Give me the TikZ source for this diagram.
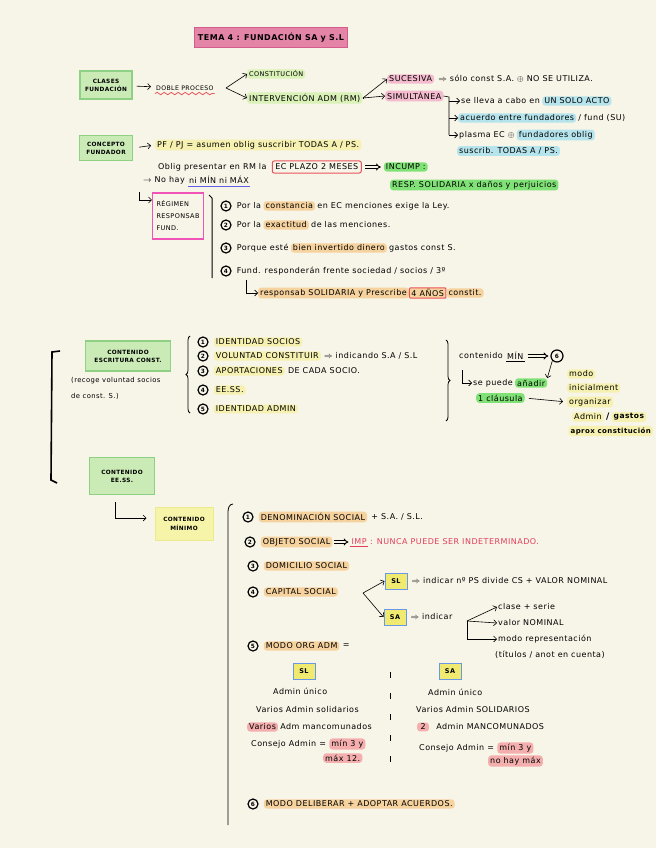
\documentclass[tikz,border=0pt]{standalone}
\usepackage{fontspec}
\setmainfont{DejaVu Sans}[LetterSpace=6]
\usetikzlibrary{positioning,arrows.meta,decorations.pathmorphing,decorations.pathreplacing}
\definecolor{bgcream}{RGB}{247,244,232}
\definecolor{titlepink}{RGB}{228,132,166}
\definecolor{titleedge}{RGB}{212,92,140}
\definecolor{gfill}{RGB}{202,234,182}
\definecolor{gedge}{RGB}{142,208,132}
\definecolor{lgreen}{RGB}{218,242,184}
\definecolor{bgreen}{RGB}{128,226,118}
\definecolor{hlpink}{RGB}{244,186,206}
\definecolor{hlblue}{RGB}{182,228,236}
\definecolor{hlyellow}{RGB}{246,241,176}
\definecolor{hlorange}{RGB}{246,210,158}
\definecolor{hlred}{RGB}{244,174,174}
\definecolor{redline}{RGB}{236,84,92}
\definecolor{magline}{RGB}{240,84,182}
\definecolor{redtext}{RGB}{226,62,92}
\definecolor{ulblue}{RGB}{96,96,232}
\definecolor{yfill}{RGB}{246,244,168}
\definecolor{yedge}{RGB}{236,234,140}
\definecolor{tagfill}{RGB}{240,234,112}
\definecolor{tagedge}{RGB}{104,152,230}

\begin{document}
\begin{tikzpicture}[x=1pt,y=-1pt,font=\fontsize{8}{9}\selectfont,node distance=2pt,
txt/.style={anchor=west, inner sep=1pt},
hl/.style={txt, rounded corners=3pt, inner xsep=2pt, inner ysep=1.5pt},
hlo/.style={hl, fill=hlorange},hly/.style={hl, fill=hlyellow},hlp/.style={hl, fill=hlpink},
hlb/.style={hl, fill=hlblue},hlg/.style={hl, fill=bgreen},hlr/.style={hl, fill=hlred},
gbox/.style={draw=gedge, fill=gfill, line width=1.2pt, align=center, font=\fontsize{5.8}{8}\selectfont\bfseries},
tag/.style={draw=tagedge, fill=tagfill, line width=1pt, font=\fontsize{6.5}{6.5}\selectfont\bfseries, minimum width=22pt, minimum height=16pt, inner sep=1pt},
num/.style={circle, draw, line width=1.2pt, inner sep=0.4pt, minimum size=10pt, font=\fontsize{5.8}{5.8}\selectfont\bfseries},
arr/.style={-{Straight Barb[length=3pt]}, line width=0.6pt},
dbl/.style={double=bgcream, double distance=1.4pt, -{Implies}, line width=0.9pt}]
\useasboundingbox (0,0) rectangle (656,848);
\fill[bgcream] (0,0) rectangle (656,848);
\node[draw=titleedge, fill=titlepink, line width=1pt, minimum width=151pt, minimum height=20pt, font=\fontsize{8}{8}\selectfont\bfseries] (title) at (271,38) {TEMA 4 : FUNDACIÓN SA y S.L};

\node[gbox, minimum width=52pt, minimum height=28pt] (clases) at (106,85) {CLASES\\FUNDACIÓN};
\node[txt, font=\fontsize{6.2}{7}\selectfont] (doble) at (155,88) {DOBLE PROCESO};
\draw[arr, shorten <=4pt, shorten >=4pt] (clases) -- (doble);
\draw[redline, line width=0.8pt, decorate, decoration={snake, amplitude=1.2pt, segment length=7pt}] ([yshift=-2pt]doble.south west) -- ([yshift=-2pt]doble.south east);
\node[hl, fill=lgreen, font=\fontsize{6.5}{7}\selectfont] (constit) at (247,74) {CONSTITUCIÓN};
\node[hl, fill=lgreen] (interv) at (247,98) {INTERVENCIÓN ADM (RM)};
\coordinate (f1) at (226,88);
\draw[arr] (f1) -- (constit.west); \draw[arr] (f1) -- (interv.west);
\coordinate (f2) at (363,98);
\node[hlp] (suces) at (387,79) {SUCESIVA};
\node[txt, right=3pt of suces] (sucestxt) {$\Rightarrow$ sólo const S.A. $\oplus$ NO SE UTILIZA.};
\node[hlp] (simul) at (385,96) {SIMULTÁNEA};
\draw[line width=0.6pt] (interv.east) -- (f2); \draw[arr] (f2) -- (suces.west); \draw[arr] (f2) -- (simul.west);
\node[txt] (acto) at (460,101) {se lleva a cabo en}; \node[hlb, right=1pt of acto] (acto2) {UN SOLO ACTO};
\node[hlb] (acuerdo) at (458,118) {acuerdo entre fundadores}; \node[txt, right=1pt of acuerdo] (fund) {/ fund (SU)};
\node[txt] (plasma) at (458,135) {plasma EC $\oplus$}; \node[hlb, right=1pt of plasma] (plasma2) {fundadores oblig};
\node[hlb] (suscrib) at (457,151) {suscrib. TODAS A / PS.};
\coordinate (b1) at (449,97);
\draw[line width=0.6pt] (simul.east) -- (b1) -- (b1 |- plasma);
\draw[arr] (b1 |- acto) -- (acto.west); \draw[arr] (b1 |- acuerdo) -- (acuerdo.west); \draw[arr] (b1 |- plasma) -- (plasma.west);

\node[gbox, minimum width=53pt, minimum height=25pt] (concepto) at (106,148) {CONCEPTO\\FUNDADOR};
\node[hly] (pfpj) at (155,145) {PF / PJ = asumen oblig suscribir TODAS A / PS.};
\draw[arr, shorten <=6pt, shorten >=4pt] (concepto.east) -- (pfpj.west);
\node[txt] (oblig) at (157,167) {Oblig presentar en RM la};
\node[draw=redline, line width=1pt, rounded corners=2pt, inner sep=3pt, right=4pt of oblig] (plazo) {EC PLAZO 2 MESES};
\node[hlg, right=22pt of plazo] (incump) {INCUMP :};
\draw[dbl, shorten <=3pt, shorten >=3pt] (plazo) -- (incump);
\node[hlg] (resp) at (390,185) {RESP. SOLIDARIA x daños y perjuicios};
\node[txt] (nohay) at (142,180) {$\rightarrow$ No hay};
\node[txt, right=2pt of nohay] (minmax) {ni MÍN ni MÁX};
\draw[ulblue, line width=0.8pt] ([yshift=-1pt]minmax.south west) -- ([yshift=-1pt]minmax.south east);
\node[draw=magline, line width=1.3pt, align=left, inner sep=4pt, minimum width=49pt, minimum height=46pt, font=\fontsize{6.5}{12}\selectfont] (regimen) at (178,216) {RÉGIMEN\\RESPONSAB\\FUND.};
\coordinate (r0) at (139,192);
\draw[arr] (r0) |- ([yshift=16pt]regimen.west);
\draw[line width=1pt] (209,195) -- (212,198) -- (212,278);
\node[num] (r1) at (226,206) {1}; \node[txt, right=4pt of r1] (r1a) {Por la}; \node[hlo, right=1pt of r1a] (r1b) {constancia}; \node[txt, right=1pt of r1b] (r1c) {en EC menciones exige la Ley.};
\node[num] (r2) at (226,225) {2}; \node[txt, right=4pt of r2] (r2a) {Por la}; \node[hlo, right=1pt of r2a] (r2b) {exactitud}; \node[txt, right=1pt of r2b] (r2c) {de las menciones.};
\node[num] (r3) at (226,248) {3}; \node[txt, right=4pt of r3] (r3a) {Porque esté}; \node[hlo, right=1pt of r3a] (r3b) {bien invertido dinero}; \node[txt, right=1pt of r3b] (r3c) {gastos const S.};
\node[num] (r4) at (226,271) {4}; \node[txt, right=4pt of r4] (r4a) {Fund. responderán frente sociedad / socios / 3º};
\coordinate (r5) at (246,280);
\node[hlo] (r5a) at (258,293) {responsab SOLIDARIA y Prescribe};
\node[hlo, draw=redline, line width=1pt, rounded corners=1pt, right=0pt of r5a] (r5b) {4 AÑOS};
\node[hlo, right=0pt of r5b] (r5c) {constit.};
\draw[arr] (r5) |- (r5a.west);

\draw[line width=1.6pt] (60,351) -- (52,352) -- (51,480) -- (57,483);
\node[gbox, minimum width=85pt, minimum height=30pt] (escritura) at (128,356) {CONTENIDO\\ESCRITURA CONST.};
\node[txt, anchor=north west, align=left, font=\fontsize{6.8}{16}\selectfont] (recoge) at (70,376) {(recoge voluntad socios\\de const. S.)};
\draw[line width=0.8pt, decorate, decoration={brace, amplitude=4pt}] (190,413) -- (190,336);
\node[num] (e1) at (203,342) {1}; \node[hly, right=5pt of e1] (e1a) {IDENTIDAD SOCIOS};
\node[num] (e2) at (203,356) {2}; \node[hly, right=5pt of e2] (e2a) {VOLUNTAD CONSTITUIR}; \node[txt, right=2pt of e2a] (e2b) {$\Rightarrow$ indicando S.A / S.L};
\node[num] (e3) at (203,371) {3}; \node[hly, right=5pt of e3] (e3a) {APORTACIONES}; \node[txt, right=2pt of e3a] (e3b) {DE CADA SOCIO.};
\node[num] (e4) at (203,390) {4}; \node[hly, right=5pt of e4] (e4a) {EE.SS.};
\node[num] (e5) at (203,409) {5}; \node[hly, right=5pt of e5] (e5a) {IDENTIDAD ADMIN};
\draw[line width=0.8pt, decorate, decoration={brace, amplitude=4pt}] (446,340) -- (446,421);
\node[txt] (cmin) at (458,356) {contenido}; \node[txt, right=2pt of cmin] (cmin2) {MÍN};
\draw[line width=0.6pt] (cmin2.south west) -- (cmin2.south east);
\node[num, minimum size=12pt] (e6) at (557,356) {6};
\draw[dbl, shorten <=3pt, shorten >=2pt] (cmin2) -- (e6);
\node[txt] (anadir0) at (472,383) {se puede}; \node[hlg, right=1pt of anadir0] (anadir) {añadir};
\node[hlg] (clausula) at (476,398) {1 cláusula};
\coordinate (s0) at (462,370);
\draw[arr] (s0) |- (anadir0.west);
\draw[arr] (e6.south west) -- (anadir.north east);
\node[hly] (modo) at (567,374) {modo};
\node[hly] (inicial) at (567,388) {inicialment};
\node[hly] (organizar) at (567,402) {organizar};
\node[hly] (admin) at (572,417) {Admin}; \node[txt, right=1pt of admin, font=\fontsize{9}{9}\selectfont\bfseries] (slash) {/}; \node[hly, right=1pt of slash, font=\fontsize{7.5}{8}\selectfont\bfseries] (gastos) {gastos};
\node[hly, anchor=east, font=\fontsize{7}{8}\selectfont\bfseries] (aprox) at (653,431) {aprox constitución};
\draw[arr, shorten <=4pt, shorten >=4pt] (clausula.east) -- (organizar.west);

\node[gbox, minimum width=65pt, minimum height=37pt] (eess) at (122,476) {CONTENIDO\\EE.SS.};
\node[draw=yedge, fill=yfill, line width=1pt, align=center, minimum width=58pt, minimum height=33pt, font=\fontsize{5.8}{9}\selectfont\bfseries] (minimo) at (184,524) {CONTENIDO\\MÍNIMO};
\draw[arr] ([xshift=-7pt,yshift=-7pt]eess.south) |- ([yshift=6pt,xshift=-8pt]minimo.west);
\draw[line width=0.8pt] (233,504) to[out=180,in=90] (228,512) -- (228,825);
\node[num] (m1) at (248,517) {1}; \node[hlo, right=5pt of m1] (m1a) {DENOMINACIÓN SOCIAL}; \node[txt, right=3pt of m1a] (m1b) {+ S.A. / S.L.};
\node[num] (m2) at (250,542) {2}; \node[hlo, right=5pt of m2] (m2a) {OBJETO SOCIAL};
\node[txt, text=redtext, right=18pt of m2a] (m2b) {IMP}; \node[txt, text=redtext, right=1pt of m2b] (m2c) {: NUNCA PUEDE SER INDETERMINADO.};
\draw[dbl, shorten <=2pt, shorten >=2pt] (m2a) -- (m2b);
\draw[redtext, line width=0.7pt] (m2b.south west) -- (m2b.south east);
\node[num] (m3) at (253,566) {3}; \node[hlo, right=5pt of m3] (m3a) {DOMICILIO SOCIAL};
\node[num] (m4) at (253,592) {4}; \node[hlo, right=5pt of m4] (m4a) {CAPITAL SOCIAL};
\node[tag] (sl) at (396,581) {SL}; \node[tag] (sa) at (395,617) {SA};
\coordinate (f3) at (363,593);
\draw[arr] (f3) -- (sl.west); \draw[arr] (f3) -- (sa.west);
\node[txt, right=3pt of sl] (slt) {$\Rightarrow$ indicar nº PS divide CS + VALOR NOMINAL};
\node[txt, right=3pt of sa] (sat) {$\Rightarrow$ indicar};
\node[txt] (clase) at (497,607) {clase + serie};
\node[txt] (valor) at (497,623) {valor NOMINAL};
\node[txt] (modorep) at (497,639) {modo representación};
\node[txt] (titulos) at (494,655) {(títulos / anot en cuenta)};
\coordinate (f4) at (467,621);
\draw[arr] (f4) -- (clase.west); \draw[arr] (f4) -- (valor.west); \draw[arr] (f4) |- (modorep.west);
\node[num] (m5) at (253,646) {5}; \node[hlo, right=5pt of m5] (m5a) {MODO ORG ADM}; \node[txt, right=2pt of m5a] (m5b) {=};
\node[tag] (sl2) at (304,671) {SL}; \node[tag] (sa2) at (450,671) {SA};
\draw[dash pattern=on 6pt off 15pt, line width=0.9pt] (390,672) -- (390,772);
\node[txt] (sla) at (272,691) {Admin único};
\node[txt] (slb) at (255,710) {Varios Admin solidarios};
\node[hlr] (slc) at (247,727) {Varios}; \node[txt, right=1pt of slc] (slc2) {Adm mancomunados};
\node[txt] (sld) at (250,744) {Consejo Admin =}; \node[hlr, right=2pt of sld] (sld2) {mín 3 y};
\node[hlr] (sle) at (323,758) {máx 12.};
\node[txt] (saa) at (427,692) {Admin único};
\node[txt] (sab) at (415,710) {Varios Admin SOLIDARIOS};
\node[hlr] (sac) at (417,727) {\,2\,}; \node[txt, right=6pt of sac] (sac2) {Admin MANCOMUNADOS};
\node[txt] (sad) at (418,748) {Consejo Admin =}; \node[hlr, right=2pt of sad] (sad2) {mín 3 y};
\node[hlr] (sae) at (488,761) {no hay máx};
\node[num] (m6) at (253,804) {6}; \node[hlo, right=5pt of m6] (m6a) {MODO DELIBERAR + ADOPTAR ACUERDOS.};
\end{tikzpicture}
\end{document}
